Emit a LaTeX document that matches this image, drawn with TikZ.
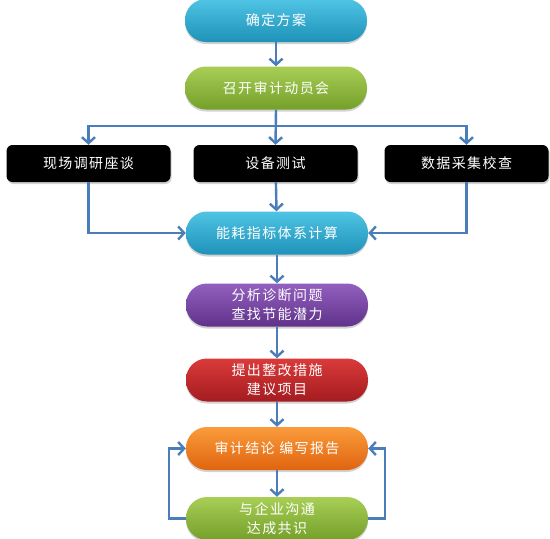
\documentclass[tikz,border=0pt]{standalone}
\usepackage{fontspec}
\newfontfamily\cjk[LetterSpace=10]{Noto Sans CJK SC}
\usetikzlibrary{arrows.meta,shadows}
\definecolor{arrowblue}{HTML}{4A7EBB}
\tikzset{
  pill/.style={rounded corners=21pt, minimum width=182pt, minimum height=43pt,
    text=white, font=\cjk\fontsize{14}{19}\selectfont, align=center,
    drop shadow={shadow xshift=0pt, shadow yshift=-2pt, opacity=0.35}},
  blackbox/.style={fill=black, rounded corners=6pt, minimum width=164pt, minimum height=37pt,
    text=white, font=\cjk\fontsize{14}{19}\selectfont,
    drop shadow={shadow xshift=1pt, shadow yshift=-2pt, opacity=0.35}},
  arr/.style={draw=arrowblue, line width=2.4pt, -{Straight Barb[length=6pt,width=13pt,line width=2.4pt]}},
  ln/.style={draw=arrowblue, line width=2.4pt}
}
\begin{document}
\begin{tikzpicture}[x=1pt,y=-1pt]
\clip (0,0) rectangle (550,539);
\fill[white] (0,0) rectangle (550,539);
\node[pill, top color={rgb,255:red,80;green,196;blue,228}, bottom color={rgb,255:red,30;green,146;blue,184}] (n1) at (276,20.5) {确定方案};
\node[pill, top color={rgb,255:red,168;green,206;blue,86}, bottom color={rgb,255:red,116;green,160;blue,42}] (n2) at (276,88) {召开审计动员会};
\node[blackbox] (b1) at (88.5,163.5) {现场调研座谈};
\node[blackbox] (b2) at (275.5,163.5) {设备测试};
\node[blackbox] (b3) at (466.5,163.5) {数据采集校查};
\node[pill, top color={rgb,255:red,80;green,196;blue,228}, bottom color={rgb,255:red,30;green,146;blue,184}] (n3) at (277,233) {能耗指标体系计算};
\node[pill, top color={rgb,255:red,146;green,96;blue,190}, bottom color={rgb,255:red,96;green,50;blue,138}] (n5) at (277,305) {分析诊断问题\\查找节能潜力};
\node[pill, top color={rgb,255:red,218;green,58;blue,58}, bottom color={rgb,255:red,164;green,28;blue,32}] (n6) at (277,380) {提出整改措施\\建议项目};
\node[pill, top color={rgb,255:red,250;green,156;blue,60}, bottom color={rgb,255:red,224;green,100;blue,15}] (n7) at (277,448.5) {审计结论 编写报告};
\node[pill, top color={rgb,255:red,168;green,206;blue,86}, bottom color={rgb,255:red,116;green,160;blue,42}] (n8) at (277,518.5) {与企业沟通\\达成共识};
\coordinate (j) at (276,126);
\draw[arr] (n1) -- (n2);
\draw[arr] (n2.south) -- (b2.north);
\draw[arr] (j) -| (b1);
\draw[arr] (j) -| (b3);
\draw[arr] (b1) |- (n3);
\draw[arr] (b3) |- (n3);
\draw[arr] (b2) -- (n3);
\draw[arr] (n3) -- (n5);
\draw[arr] (n5) -- (n6);
\draw[arr] (n6) -- (n7);
\draw[arr] (n7) -- (n8);
\draw[arr] (n8.west) -- ++(-17,0) |- (n7.west);
\draw[arr] (n8.east) -- ++(17,0) |- (n7.east);
\end{tikzpicture}
\end{document}
